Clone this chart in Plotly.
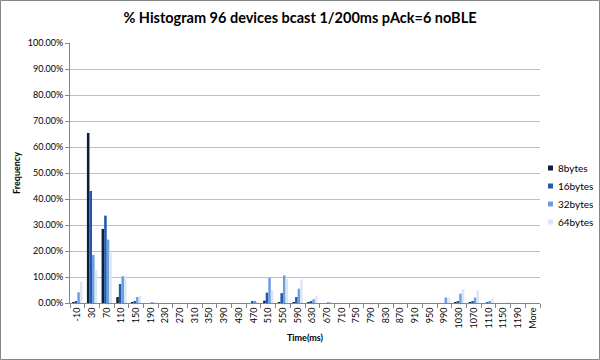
import plotly.graph_objects as go

categories = ["-10", "30", "70", "110", "150", "190", "230", "270", "310", "350",
              "390", "430", "470", "510", "550", "590", "630", "670", "710", "750",
              "790", "830", "870", "910", "950", "990", "1030", "1070", "1110", "1150",
              "1190", "More"]

s8 = [0.003, 0.654, 0.285, 0.023, 0.001, 0.0, 0.0, 0.0, 0.0, 0.0,
      0.0, 0.0, 0.0, 0.009, 0.003, 0.003, 0.001, 0.0, 0.0, 0.0,
      0.0, 0.0, 0.0, 0.0, 0.0, 0.0, 0.003, 0.001, 0.0, 0.0,
      0.0, 0.0]
s16 = [0.008, 0.431, 0.336, 0.073, 0.008, 0.0, 0.0, 0.0, 0.0, 0.0,
       0.0, 0.0, 0.004, 0.040, 0.038, 0.023, 0.005, 0.0, 0.0, 0.0,
       0.0, 0.0, 0.0, 0.0, 0.0, 0.0, 0.005, 0.005, 0.003, 0.0,
       0.0, 0.0]
s32 = [0.041, 0.185, 0.244, 0.103, 0.023, 0.002, 0.0, 0.0, 0.0, 0.0,
       0.0, 0.0, 0.008, 0.097, 0.106, 0.055, 0.014, 0.002, 0.0, 0.0,
       0.0, 0.0, 0.0, 0.0, 0.0, 0.021, 0.036, 0.021, 0.004, 0.0,
       0.0, 0.0]
s64 = [0.082, 0.126, 0.192, 0.105, 0.028, 0.003, 0.0, 0.0, 0.0, 0.0,
       0.0, 0.0, 0.003, 0.049, 0.092, 0.091, 0.026, 0.002, 0.0, 0.0,
       0.0, 0.0, 0.0, 0.0, 0.0, 0.020, 0.053, 0.049, 0.017, 0.002,
       0.0, 0.0]

series_names = ["8bytes", "16bytes", "32bytes", "64bytes"]
series_vals = [s8, s16, s32, s64]
colors = ["#0E1F3D", "#1F5BA8", "#6C9FE0", "#DCE6F5"]

FONT = "Lato, Open Sans, sans-serif"

fig = go.Figure()
for name, vals, c in zip(series_names, series_vals, colors):
    fig.add_trace(go.Bar(x=categories, y=vals, name=name, showlegend=False,
                         marker=dict(color=c, line=dict(width=0))))

L, R, T, B = 70, 60, 43, 57
W, H = 600, 360
pw, ph = W - L - R, H - T - B
bottom_px = T + ph


def px_x(x):
    return (x - L) / pw


def px_y(y):
    return (bottom_px - y) / ph


fig.update_layout(
    width=W, height=H,
    margin=dict(l=L, r=R, t=T, b=B, autoexpand=False),
    paper_bgcolor="white", plot_bgcolor="white",
    barmode="group", bargap=0.3, bargroupgap=0,
    font=dict(family=FONT, size=9, color="#000000"),
    showlegend=False,
    title=dict(text="<b>% Histogram 96 devices bcast 1/200ms pAck=6 noBLE</b>",
               x=0.5, xanchor="center", y=1 - 18 / H, yanchor="middle",
               font=dict(family=FONT, size=14.5, color="#000000")),
    xaxis=dict(type="category", tickangle=-90, ticks="outside", tickson="boundaries",
               ticklen=4, tickcolor="#868686", showline=True, linecolor="#868686",
               showgrid=False,
               title=dict(text="<b>Time(ms)</b>", font=dict(family=FONT, size=9),
                          standoff=6),
               tickfont=dict(family=FONT, size=9)),
    yaxis=dict(range=[0, 1], dtick=0.1, tickformat=".2%", showline=True,
               linecolor="#868686", ticks="outside", ticklen=4, tickcolor="#868686",
               showgrid=True, gridcolor="#BFBFBF", gridwidth=1, zeroline=False,
               title=dict(text="<b>Frequency</b>", font=dict(family=FONT, size=9),
                          standoff=5),
               tickfont=dict(family=FONT, size=9)),
)

# legend drawn as small squares + labels
legend_y = [168, 186, 204, 222]
for name, c, ly in zip(series_names, colors, legend_y):
    fig.add_shape(type="rect", xref="paper", yref="paper",
                  x0=px_x(548), x1=px_x(553), y0=px_y(ly + 2.5), y1=px_y(ly - 2.5),
                  line=dict(width=0), fillcolor=c)
    fig.add_annotation(xref="paper", yref="paper", x=px_x(556), y=px_y(ly),
                       text=name, showarrow=False, xanchor="left", yanchor="middle",
                       font=dict(family=FONT, size=10, color="#000000"))

# outer chart border
fig.add_shape(type="rect", xref="paper", yref="paper",
              x0=px_x(0.5), x1=px_x(W - 0.5),
              y0=px_y(H - 0.5), y1=px_y(0.5),
              line=dict(color="#868686", width=1), fillcolor="rgba(0,0,0,0)",
              layer="above")

fig.write_html("out.html", config={"displayModeBar": False},
               post_script="document.body.style.margin='0px';")
